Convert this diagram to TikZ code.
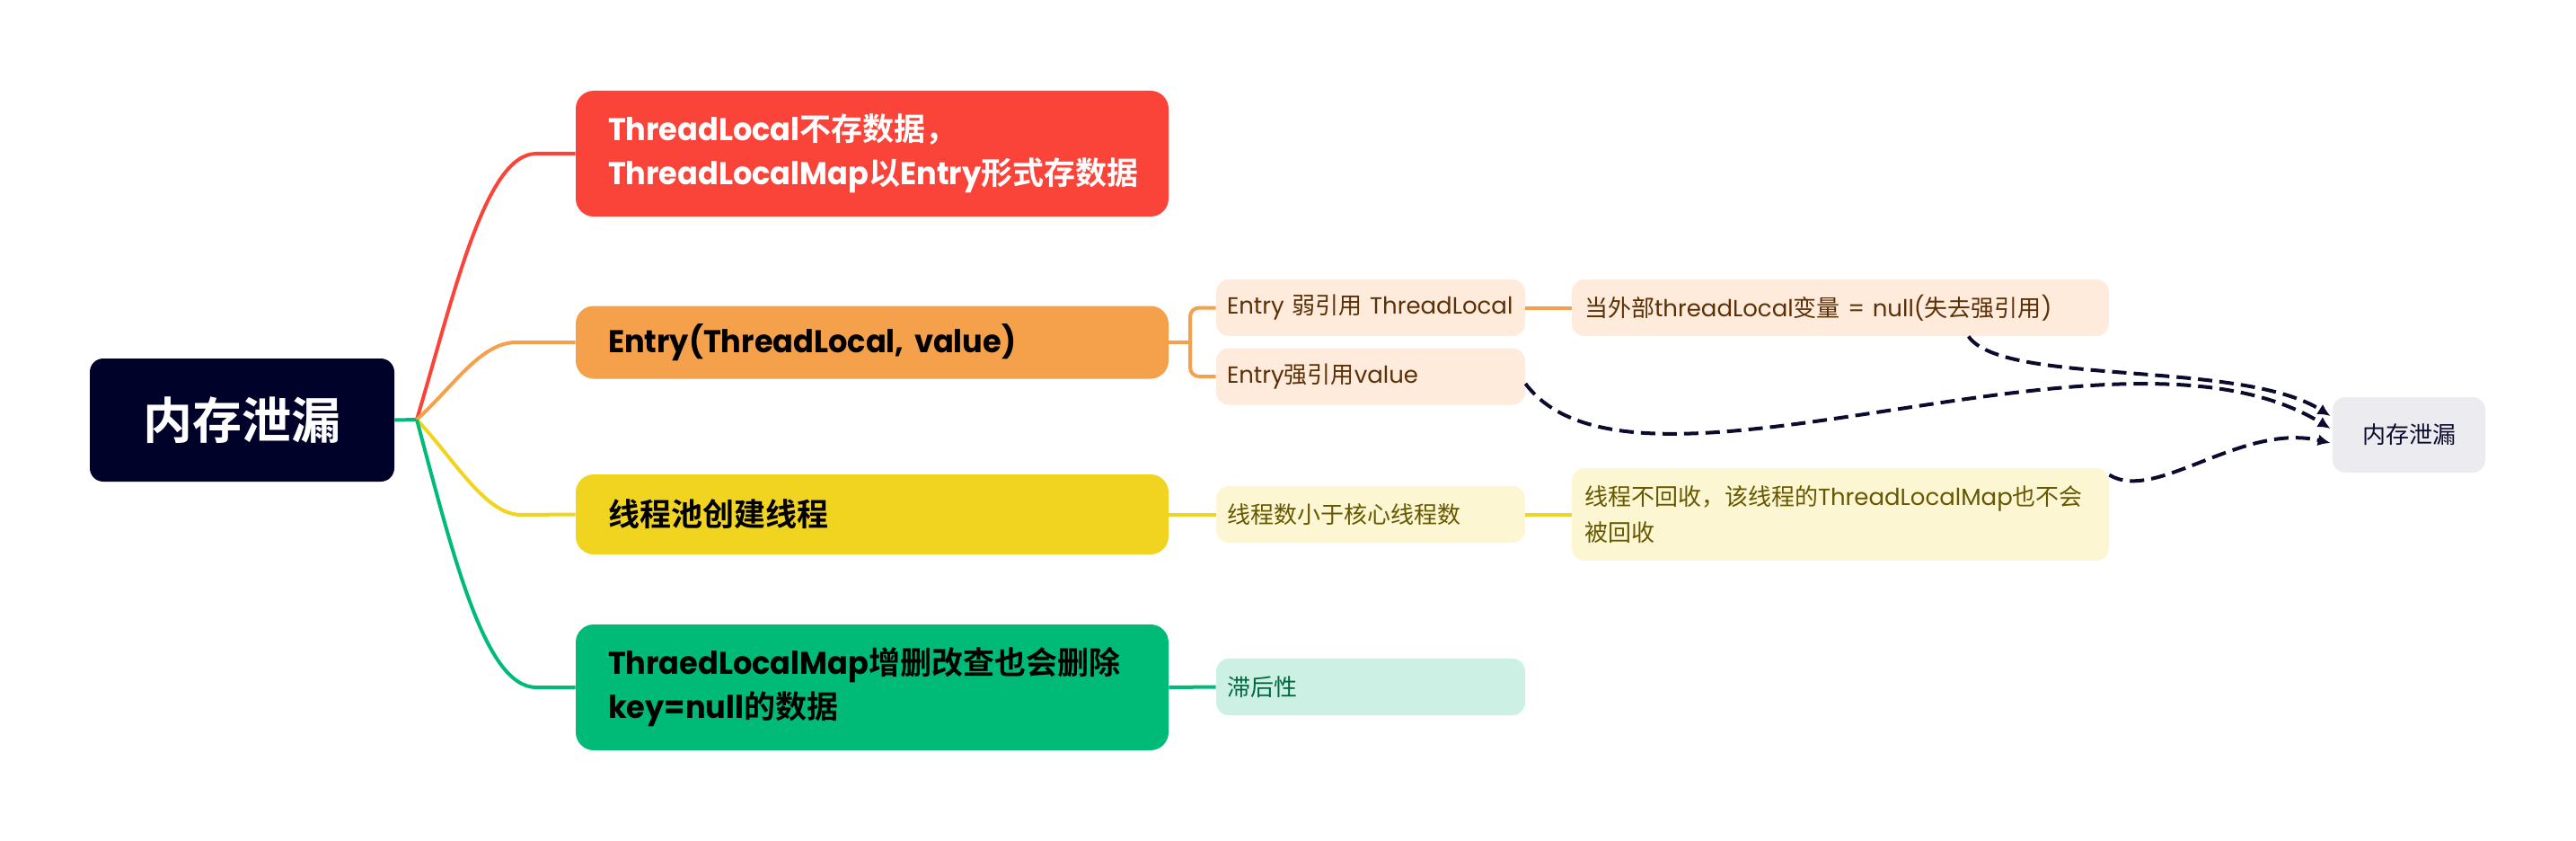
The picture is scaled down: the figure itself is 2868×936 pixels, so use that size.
\documentclass[tikz,border=0pt]{standalone}
\usepackage{fontspec}
\usepackage{tikz}
\usetikzlibrary{arrows.meta,calc}

\setmainfont{Poppins}[BoldFeatures={FakeStretch=0.96}]
\newfontfamily\cjkfont{Noto Sans CJK SC}[BoldFont={Noto Sans CJK SC Bold}]

% CJK characters are set in the CJK font
\XeTeXinterchartokenstate=1
\newXeTeXintercharclass\cjkclass
\count255="4E00
\loop
  \XeTeXcharclass\count255=\cjkclass
  \ifnum\count255<"9FFF \advance\count255 by 1
\repeat
\XeTeXcharclass"FF0C=\cjkclass
\XeTeXinterchartoks 0 \cjkclass={\begingroup\cjkfont}
\XeTeXinterchartoks 4095 \cjkclass={\begingroup\cjkfont}
\XeTeXinterchartoks \cjkclass 0={\endgroup}
\XeTeXinterchartoks \cjkclass 4095={\endgroup}

\definecolor{rootnavy}{HTML}{000229}
\definecolor{mred}{HTML}{FA4339}
\definecolor{morange}{HTML}{F5A04B}
\definecolor{myellow}{HTML}{F1D420}
\definecolor{mgreen}{HTML}{00BB78}
\definecolor{lorange}{HTML}{FEEBDC}
\definecolor{lyellow}{HTML}{FDF6D3}
\definecolor{lgreen}{HTML}{CCF1E4}
\definecolor{tbrown}{HTML}{5C3005}
\definecolor{tolive}{HTML}{665800}
\definecolor{tgreen}{HTML}{00673F}
\definecolor{leakgray}{HTML}{ECEBF0}
\definecolor{navyline}{HTML}{0B0B2E}

\begin{document}
\begin{tikzpicture}[x=0.5pt, y=-0.5pt,
    every node/.style={inner ysep=0pt},
    rootbox/.style={fill=rootnavy, text=white, rounded corners=7.5pt,
        minimum width=169.5pt, minimum height=68.5pt,
        font=\fontsize{27.5}{33}\selectfont\bfseries},
    topic/.style={rounded corners=10pt, text width=294pt, inner xsep=18pt,
        align=left, font=\fontsize{17.5}{24.5}\selectfont\bfseries},
    subtopic/.style={rounded corners=7pt, text width=160pt, inner xsep=6pt,
        align=left, minimum height=31.5pt, font=\fontsize{13}{20}\selectfont},
    detail/.style={subtopic, text width=285pt, inner xsep=7pt},
    branch/.style={line width=2pt},
    leakarrow/.style={draw=navyline, line width=2pt, dash pattern=on 8pt off 4pt,
        -{Latex[length=7pt,width=6.5pt]}},
]
    \useasboundingbox (0,0) rectangle (2868,936);

    \node[rootbox] (root) at (269.5,467.5) {内存泄漏};
    \coordinate (hub) at (464,467);

    \node[topic, fill=mred, text=white, minimum height=70pt] (tlnostore) at (971,171)
        {ThreadLocal不存数据，\\ThreadLocalMap以Entry形式存数据};
    \node[topic, fill=morange, minimum height=40.5pt] (entry) at (971,381)
        {Entry(ThreadLocal, value)};
    \node[topic, fill=myellow, minimum height=44.5pt] (pool) at (971,572.5)
        {线程池创建线程};
    \node[topic, fill=mgreen, minimum height=70pt] (cleanup) at (971,765)
        {ThraedLocalMap增删改查也会删除\\key=null的数据};

    \node[subtopic, fill=lorange, text=tbrown] (weakref) at (1526,342.5) {Entry 弱引用 ThreadLocal};
    \node[subtopic, fill=lorange, text=tbrown] (strongref) at (1526,419) {Entry强引用value};
    \node[subtopic, fill=lyellow, text=tolive] (fewer) at (1526,572.5) {线程数小于核心线程数};
    \node[subtopic, fill=lgreen, text=tgreen] (lag) at (1526,764.5) {滞后性};

    \node[detail, fill=lorange, text=tbrown] (extnull) at (2049,342.5)
        {当外部threadLocal变量 = null(失去强引用)};
    \node[detail, fill=lyellow, text=tolive, minimum height=51.5pt] (norecycle) at (2049,572.5)
        {线程不回收，该线程的ThreadLocalMap也不会\\被回收};

    \node[fill=leakgray, text=navyline, rounded corners=7pt, minimum width=85pt,
        minimum height=42pt, font=\fontsize{13}{16}\selectfont] (leak) at (2682,484) {内存泄漏};

    % root to topics
    \draw[branch, mgreen] (root.east) -- (hub);
    \draw[branch, mred] (hub) .. controls (505,330) and (540,171) .. (597,171) -- (tlnostore.west);
    \draw[branch, morange] (hub) .. controls (505,430) and (535,381) .. (575,381) -- (entry.west);
    \draw[branch, myellow] (hub) .. controls (505,510) and (540,573) .. (580,573) -- (pool.west);
    \draw[branch, mgreen] (hub) .. controls (505,620) and (540,765) .. (597,765) -- (cleanup.west);

    % topics to subtopics
    \coordinate (entryfork) at (1325,381);
    \draw[branch, morange] (entry.east) -- (entryfork);
    \draw[branch, morange, rounded corners=5pt] (weakref.west) -| (entryfork) |- (strongref.west);
    \draw[branch, morange] (weakref.east) -- (extnull.west);
    \draw[branch, myellow] (pool.east) -- (fewer.west);
    \draw[branch, myellow] (fewer.east) -- (norecycle.west);
    \draw[branch, mgreen] (cleanup.east) -- (lag.west);

    % leak arrows
    \draw[leakarrow] ($(extnull.south west)+(442,0)$) .. controls (2230,430) and (2495,400) .. ($(leak.west)+(-2,-21)$);
    \draw[leakarrow] ($(strongref.east)+(0,8)$) .. controls (1820,590) and (2355,330) .. ($(leak.west)+(-2,-7)$);
    \draw[leakarrow] ($(norecycle.north east)+(0,8)$) .. controls (2400,560) and (2495,470) .. ($(leak.west)+(-2,9)$);
\end{tikzpicture}
\end{document}
